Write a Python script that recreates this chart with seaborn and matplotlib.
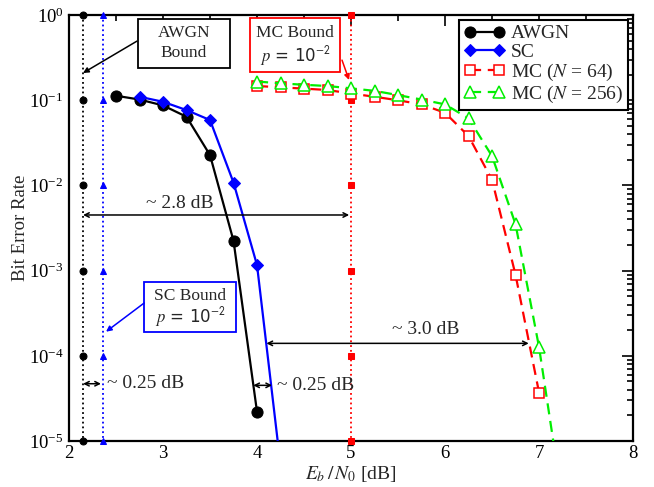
import numpy as np
import pandas as pd
import matplotlib
matplotlib.use("Agg")
import matplotlib.pyplot as plt
import seaborn as sns
from matplotlib.patches import Rectangle
from matplotlib.ticker import LogLocator, MultipleLocator, NullFormatter

# ---------------- data ----------------
awgn_x = [2.5, 2.75, 3.0, 3.25, 3.5, 3.75, 4.0]
awgn_y = [0.113, 0.102, 0.087, 0.064, 0.0227, 0.00224, 2.2e-5]

sc_x = [2.75, 3.0, 3.25, 3.5, 3.75, 4.0, 4.25]
sc_y = [0.110, 0.096, 0.0767, 0.0586, 0.0108, 1.16e-3, 5.2e-6]

mc64_x = [4.0, 4.25, 4.5, 4.75, 5.0, 5.25, 5.5, 5.75, 6.0, 6.25, 6.5, 6.75, 7.0]
mc64_y = [0.147, 0.142, 0.137, 0.132, 0.120, 0.110, 0.100, 0.0895, 0.0713,
          0.038, 0.0116, 8.9e-4, 3.7e-5]

mc256_x = [4.0, 4.25, 4.5, 4.75, 5.0, 5.25, 5.5, 5.75, 6.0, 6.25, 6.5, 6.75, 7.0, 7.25]
mc256_y = [0.166, 0.158, 0.152, 0.147, 0.138, 0.129, 0.115, 0.102, 0.0895,
           0.0613, 0.0221, 3.5e-3, 1.26e-4, 1.9e-6]

bound_levels = [1e0, 1e-1, 1e-2, 1e-3, 1e-4, 1e-5]
awgn_bound = 2.15
sc_bound = 2.36
mc_bound = 5.0

legend_labels = ["AWGN", "SC", r"MC ($N$ = 64)", r"MC ($N$ = 256)"]

# ---------------- style ----------------
sns.set_style("white")
plt.rcParams["font.family"] = ["Liberation Serif", "DejaVu Serif"]
plt.rcParams["mathtext.fontset"] = "stix"

fig = plt.figure(figsize=(6.54, 4.87), dpi=100)
ax = fig.add_axes([0.1055, 0.0945, 0.8625, 0.8745])

# bounds (vertical dotted lines with markers at decades)
for xb, col, mk in [(awgn_bound, "black", "o"), (sc_bound, "blue", "^"), (mc_bound, "red", "s")]:
    df = pd.DataFrame({"x": [xb] * len(bound_levels), "y": bound_levels})
    sns.lineplot(data=df, x="x", y="y", ax=ax, orient="y", estimator=None, sort=False,
                 color=col, linestyle=":", linewidth=1.3, marker=mk, markersize=5,
                 markeredgecolor=col, markerfacecolor=col, clip_on=False, zorder=3)

series = [
    (awgn_x, awgn_y, "black", "o", dict(markersize=8, markerfacecolor="black", markeredgecolor="black")),
    (sc_x, sc_y, "blue", "D", dict(markersize=6.5, markerfacecolor="blue", markeredgecolor="blue")),
    (mc64_x, mc64_y, "red", "s", dict(markersize=7.5, markerfacecolor="white", markeredgecolor="red",
                                      markeredgewidth=1.1, dashes=(5, 3))),
    (mc256_x, mc256_y, "#00ee00", "^", dict(markersize=8.5, markerfacecolor="white", markeredgecolor="#00ee00",
                                           markeredgewidth=1.1, dashes=(5, 3))),
]
for (xs, ys, col, mk, kw), lab in zip(series, legend_labels):
    df = pd.DataFrame({"x": xs, "y": ys})
    sns.lineplot(data=df, x="x", y="y", ax=ax, estimator=None, color=col,
                 linewidth=1.6, marker=mk, label=lab, zorder=4, **kw)

ax.set_yscale("log")
ax.set_xlim(2, 8)
ax.set_ylim(1e-5, 1)

ax.xaxis.set_major_locator(MultipleLocator(1))
ax.xaxis.set_minor_locator(MultipleLocator(0.5))
ax.yaxis.set_major_locator(LogLocator(base=10, numticks=10))
ax.yaxis.set_minor_locator(LogLocator(base=10, subs=np.arange(2, 10), numticks=20))
ax.yaxis.set_minor_formatter(NullFormatter())
ax.tick_params(which="both", direction="in", top=True, right=True, colors="black",
               labelsize=13.5, width=1.2)
ax.tick_params(which="major", length=8)
ax.tick_params(which="minor", length=4)
ax.tick_params(axis="x", pad=3)
ax.tick_params(axis="y", pad=4)
for s in ax.spines.values():
    s.set_color("black")
    s.set_linewidth(1.6)

ax.set_xlabel(r"$E_b\,/\,N_{\mathit{0}}$ [dB]", fontsize=14, labelpad=1)
ax.set_ylabel("Bit Error Rate", fontsize=13.5, labelpad=0)

leg = ax.legend(loc="upper right", numpoints=2, handlelength=2.1, fontsize=14,
                frameon=True, fancybox=False, edgecolor="black", borderpad=0.25,
                labelspacing=0.05, handletextpad=0.3, borderaxespad=0.25)
leg.get_frame().set_linewidth(1.5)
leg.get_frame().set_alpha(1)

# ---------------- annotation boxes (axes-fraction coordinates) ----------------
def label_box(x0, y0, x1, y1, edge, line1, line2, line2_sans=False):
    ax.add_patch(Rectangle((x0, y0), x1 - x0, y1 - y0, transform=ax.transAxes,
                           facecolor="white", edgecolor=edge, lw=1.3, zorder=6))
    xc = (x0 + x1) / 2
    h = y1 - y0
    ax.text(xc, y1 - 0.28 * h, line1, transform=ax.transAxes, ha="center", va="center",
            fontsize=12.5, zorder=7)
    if line2_sans:
        ax.text(xc, y0 + 0.30 * h, line2, transform=ax.transAxes, ha="center", va="center",
                fontsize=12, family="DejaVu Sans", zorder=7)
    else:
        ax.text(xc, y0 + 0.30 * h, line2, transform=ax.transAxes, ha="center", va="center",
                fontsize=12.5, zorder=7)

p_label = r"$p$" + " = 10" + r"$^{\mathsf{-2}}$"
label_box(0.1223, 0.8756, 0.2855, 0.9906, "black", "AWGN", "Bound")
label_box(0.3209, 0.8662, 0.4805, 0.9930, "red", "MC Bound", p_label, line2_sans=True)
label_box(0.1330, 0.2559, 0.2960, 0.3732, "blue", "SC Bound", p_label, line2_sans=True)

single_kw = dict(arrowstyle="-|>", lw=1.1, mutation_scale=8, shrinkA=0, shrinkB=0)
ax.annotate("", xy=(2.149, 0.209), xytext=(2.723, 0.495),
            arrowprops=dict(color="black", **single_kw), zorder=6)
ax.annotate("", xy=(4.979, 0.173), xytext=(4.904, 0.296),
            arrowprops=dict(color="red", **single_kw), zorder=6)
ax.annotate("", xy=(2.394, 1.92e-4), xytext=(2.80, 4.17e-4),
            arrowprops=dict(color="blue", **single_kw), zorder=6)

# gap arrows
arrow_kw = dict(arrowstyle="<->", color="black", lw=1.1, mutation_scale=8, shrinkA=0, shrinkB=0)
ax.annotate("", xy=(2.15, 4.5e-3), xytext=(4.98, 4.5e-3), arrowprops=arrow_kw, zorder=5)
ax.text(3.18, 6.2e-3, "~ 2.8 dB", ha="center", va="center", fontsize=14)

ax.annotate("", xy=(4.10, 1.4e-4), xytext=(6.89, 1.4e-4), arrowprops=arrow_kw, zorder=5)
ax.text(5.80, 2.06e-4, "~ 3.0 dB", ha="center", va="center", fontsize=14)

ax.annotate("", xy=(2.15, 4.7e-5), xytext=(2.34, 4.7e-5), arrowprops=arrow_kw, zorder=5)
ax.text(2.40, 4.7e-5, "~ 0.25 dB", ha="left", va="center", fontsize=14)

ax.annotate("", xy=(3.96, 4.5e-5), xytext=(4.16, 4.5e-5), arrowprops=arrow_kw, zorder=5)
ax.text(4.21, 4.5e-5, "~ 0.25 dB", ha="left", va="center", fontsize=14)

fig.savefig("out.png", dpi=100)
